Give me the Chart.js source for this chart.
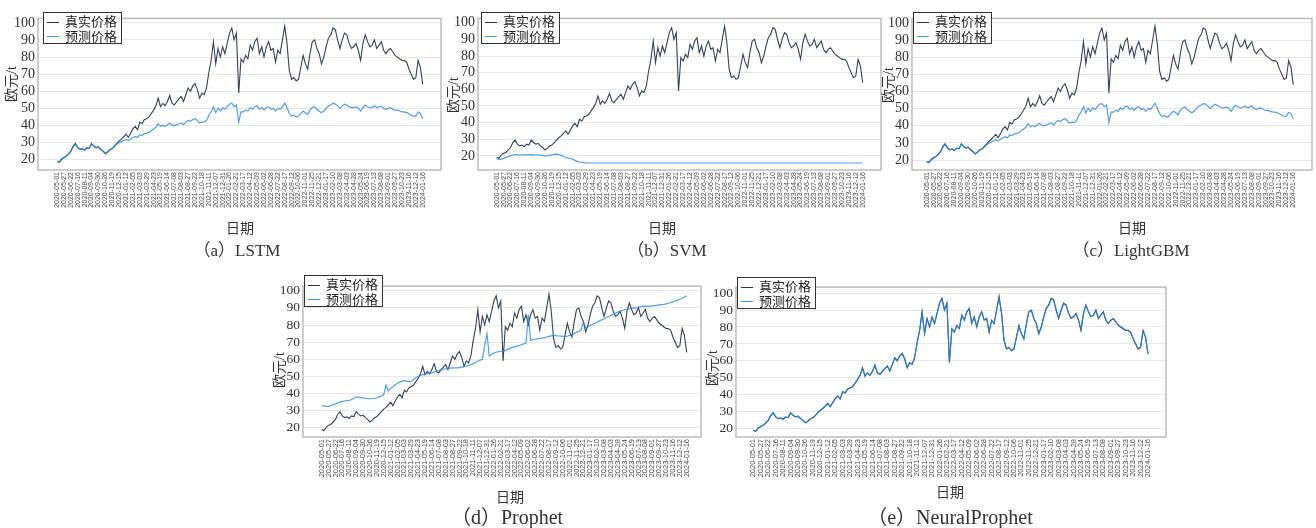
<!DOCTYPE html>
<html>
<head>
<meta charset="utf-8">
<script src="https://cdn.jsdelivr.net/npm/chart.js@4.4.1/dist/chart.umd.min.js"></script>
<style>
  body { margin: 0; width: 1316px; height: 528px; position: relative; overflow: hidden; background: #fff;
         font-family: 'Liberation Serif', 'Noto Sans CJK SC', serif; color: #333; }
  canvas { position: absolute; }
  .lbl { position: absolute; white-space: nowrap; transform: translate(-50%, -50%); z-index: 2; font-size: 14px; }
  .cjk { font-family: 'Noto Sans CJK SC', sans-serif; }
  .ytitle { transform: translate(-50%, -50%) rotate(-90deg); }
  .legend { position: absolute; z-index: 3; background: #fff; border: 1px solid #333; font-size: 13px;
            font-family: 'Noto Sans CJK SC', sans-serif; color: #222;
            line-height: 14.5px; padding: 1px 4px 0 3px; white-space: nowrap; }
  .legend .sw { display: inline-block; width: 12px; border-top: 1.5px solid; vertical-align: middle; margin-right: 6px; }
</style>
</head>
<body>
<script>
// trading-day index spacing of the stored samples and of the date labels
const STEP = 6;
const TICK_EVERY = 18;

const dateLabels = [
  "2020-05-01","2020-05-27","2020-06-22","2020-07-16","2020-08-11","2020-09-04","2020-09-30","2020-10-26","2020-11-19","2020-12-15",
  "2021-01-12","2021-02-05","2021-03-03","2021-03-29","2021-04-23","2021-05-19","2021-06-14","2021-07-08","2021-08-03","2021-08-27",
  "2021-09-22","2021-10-18","2021-11-11","2021-12-07","2021-12-31","2022-01-26","2022-02-21","2022-03-17","2022-04-12","2022-05-09",
  "2022-06-02","2022-06-28","2022-07-22","2022-08-17","2022-09-12","2022-10-06","2022-11-01","2022-11-25","2022-12-21","2023-01-17",
  "2023-02-10","2023-03-08","2023-04-03","2023-04-28","2023-05-24","2023-06-19","2023-07-13","2023-08-08","2023-09-01","2023-09-27",
  "2023-10-23","2023-11-16","2023-12-12","2024-01-16"
];

const yTicks = [20, 30, 40, 50, 60, 70, 80, 90, 100];

// 真实价格 (EUR/t)
const actualPrice = [
  19, 18.5, 20.5, 21.5, 22, 23.5, 25, 28, 29.5, 27,
  26, 26.5, 25.5, 27, 26.5, 29.5, 28, 27, 27.5, 26,
  25, 23.5, 24.5, 26, 26.5, 28, 29.5, 31, 32, 33.5,
  35, 33, 35.5, 38, 39.5, 37.5, 42, 41, 43.5, 44,
  45, 47, 49, 51.5, 56, 51, 53, 51.5, 54, 57.5,
  53, 52, 54, 55.5, 57, 54, 58, 62, 60, 63,
  64.5, 61, 56, 59, 58, 62, 71, 78, 89, 76,
  85, 80, 86, 82, 88, 94, 97, 90, 94, 59,
  79, 77, 81, 79, 87, 84, 89, 91, 82, 86,
  80, 86, 89, 84, 85, 77, 84, 82, 90, 98,
  88, 72, 67, 68, 66, 67, 74, 81, 76, 73,
  82, 89, 90, 85, 82, 76, 80, 86, 91, 93,
  97, 96, 90, 85, 90, 94, 93, 88, 85, 86,
  88, 84, 78, 88, 93, 89, 86, 87, 90, 85,
  87, 89, 84, 82, 84, 85, 83, 81, 80, 79,
  78, 78, 77, 73, 70, 67, 68, 78, 74, 64
];

const lstmPred = [
  19, 18.8, 20, 21.2, 22, 23.2, 24.8, 27.5, 29, 27.3,
  26.2, 26.3, 25.8, 26.8, 26.6, 29, 28, 27.2, 27.3, 26.2,
  25.2, 23.8, 24.5, 25.8, 26.4, 27.8, 29, 30, 30.6, 31.2,
  31.8, 31.2, 32, 33, 33.5, 33, 34.5, 34.3, 35.2, 35.5,
  36, 37, 38, 39, 41, 39.5, 40, 39.5, 40.5, 41.5,
  40.2, 39.8, 40.5, 41, 41.5, 40.5, 42, 43, 42.5, 43.5,
  44, 43, 41.5, 42, 42, 43, 46, 48, 51, 47.5,
  50, 48.5, 50.5, 49.5, 51, 52.5, 53, 51, 52, 42,
  48, 48, 49, 48.5, 50.5, 49.5, 51, 51.5, 49.5, 50.5,
  49, 50.5, 51, 49.5, 50, 48.5, 50, 49.5, 51, 53,
  50.5, 47, 45.5, 46, 45, 45.5, 47, 48.5, 47.5, 46.5,
  49, 50.5, 51, 49.5, 48.5, 47.5, 48.5, 50, 51.5, 52,
  53, 52.5, 51.5, 50, 51.5, 52.5, 52, 51, 50.5, 50.5,
  51, 50, 48.5, 50.5, 52, 51, 50.5, 50.5, 51.5, 50.5,
  51, 51.5, 50, 49.5, 50, 50.5, 49.5, 49, 49, 48.5,
  48, 48, 47.5, 47, 46, 45.5, 45.5, 48, 47, 44
];

const svmPred = [
  18.5, 17.7, 18, 18.5, 19, 19.5, 20, 20.5, 20.8, 20.6,
  20.4, 20.5, 20.6, 20.6, 20.6, 20.7, 20.6, 20.5, 20.5, 20.4,
  20.2, 19.9, 20, 20.3, 20.6, 20.9, 21, 20.8, 20.3, 19.6,
  19, 18.6, 18.4, 18, 17.3, 16.7, 16.3, 16.1, 15.9, 15.8,
  15.7, 15.7, 15.7, 15.7, 15.7, 15.7, 15.7, 15.7, 15.7, 15.7,
  15.7, 15.7, 15.7, 15.7, 15.7, 15.7, 15.7, 15.7, 15.7, 15.7,
  15.7, 15.7, 15.7, 15.7, 15.7, 15.7, 15.7, 15.7, 15.7, 15.7,
  15.7, 15.7, 15.7, 15.7, 15.7, 15.7, 15.7, 15.7, 15.7, 15.7,
  15.7, 15.7, 15.7, 15.7, 15.7, 15.7, 15.7, 15.7, 15.7, 15.7,
  15.7, 15.7, 15.7, 15.7, 15.7, 15.7, 15.7, 15.7, 15.7, 15.7,
  15.7, 15.7, 15.7, 15.7, 15.7, 15.7, 15.7, 15.7, 15.7, 15.7,
  15.7, 15.7, 15.7, 15.7, 15.7, 15.7, 15.7, 15.7, 15.7, 15.7,
  15.7, 15.7, 15.7, 15.7, 15.7, 15.7, 15.7, 15.7, 15.7, 15.7,
  15.7, 15.7, 15.7, 15.7, 15.7, 15.7, 15.7, 15.7, 15.7, 15.7,
  15.7, 15.7, 15.7, 15.7, 15.7, 15.7, 15.7, 15.7, 15.7, 15.7,
  15.7, 15.7, 15.7, 15.7, 15.7, 15.7, 15.7, 15.7, 15.7, 15.7
];

const lgbmPred = [
  19.1, 18.7, 20.1, 21.1, 22.1, 23.1, 24.7, 27.4, 29.1, 27.2,
  26.1, 26.4, 25.7, 26.9, 26.5, 29.1, 27.9, 27.1, 27.4, 26.1,
  25.1, 23.7, 24.6, 25.7, 26.3, 27.7, 28.9, 29.8, 30.5, 31.3,
  31.9, 31.1, 32.1, 32.9, 33.6, 32.9, 34.6, 34.2, 35.3, 35.4,
  36.1, 36.9, 38.1, 39.1, 41.2, 39.4, 40.1, 39.4, 40.6, 41.4,
  40.1, 39.9, 40.4, 41.1, 41.6, 40.4, 42.1, 43.1, 42.4, 43.6,
  44.1, 42.9, 41.4, 42.1, 41.9, 43.1, 46.2, 48.1, 51.2, 47.4,
  50.1, 48.4, 50.6, 49.4, 51.1, 52.6, 52.9, 51.1, 52.1, 41.8,
  48.1, 47.9, 49.1, 48.4, 50.6, 49.4, 51.1, 51.6, 49.4, 50.6,
  48.9, 50.6, 51.1, 49.4, 50.1, 48.4, 50.1, 49.4, 51.1, 53.1,
  50.4, 47.1, 45.4, 46.1, 44.9, 45.6, 47.1, 48.4, 47.6, 46.4,
  49.1, 50.4, 51.1, 49.6, 48.4, 47.6, 48.4, 50.1, 51.4, 52.1,
  52.9, 52.6, 51.4, 50.1, 51.4, 52.6, 51.9, 51.1, 50.4, 50.6,
  50.9, 50.1, 48.4, 50.6, 51.9, 51.1, 50.4, 50.6, 51.4, 50.6,
  50.9, 51.6, 50.1, 49.4, 50.1, 50.4, 49.6, 48.9, 49.1, 48.4,
  48.1, 47.9, 47.6, 46.9, 46.1, 45.4, 45.6, 47.9, 47.1, 44.1
];

const prophetPred = [
  33, 32.8, 32.6, 32.5, 33, 33.5, 34, 34.6, 35.1, 35.5,
  35.7, 35.9, 36, 36.6, 37.3, 38, 37.9, 37.7, 37.5, 37.3,
  37.1, 37, 37.1, 37.3, 37.6, 38.1, 38.6, 39.3, 45, 41.5,
  43, 44, 45, 46, 46.7, 47.3, 47.6, 47.3, 47, 47.2,
  48.2, 49.2, 50, 50.6, 51.1, 51.5, 51.7, 51.9, 52.1, 52.6,
  53.1, 53.5, 53.9, 54.2, 54.5, 54.7, 54.9, 55, 55, 55,
  55.1, 55.4, 55.7, 56, 56.5, 57, 57.5, 58.2, 58.9, 59.5,
  60, 68, 75, 62, 63, 63.6, 64.1, 64.5, 64.7, 64.9,
  65.1, 65.8, 66.4, 67, 67.4, 67.7, 68, 68.5, 69, 69.5,
  86, 71, 71.5, 71.7, 71.9, 72.1, 72.4, 72.7, 73, 73.4,
  73.7, 74, 73.8, 73.6, 73.5, 73.4, 73.4, 73.5, 74, 74.5,
  75, 75.7, 76.4, 77, 82, 78.3, 79, 79.7, 80.4, 81,
  81.7, 82.4, 83, 83.7, 84.4, 85, 85.7, 86.4, 87, 87.5,
  88, 88.5, 88.9, 89.2, 89.5, 89.7, 89.9, 90, 90.4, 90.7,
  91, 91, 91, 91, 91.2, 91.4, 91.5, 91.7, 91.9, 92,
  92.3, 92.7, 93, 93.5, 94, 94.5, 95, 95.5, 96.3, 97
];

const neuralPred = [
  19.2, 18.8, 20.3, 21.3, 22.2, 23.3, 25.2, 27.6, 29.3, 27.3,
  26.2, 26.3, 25.8, 26.8, 26.7, 29.2, 28.2, 27.2, 27.3, 26.2,
  25.2, 23.8, 24.3, 25.8, 26.7, 27.8, 29.3, 30.8, 32.2, 33.3,
  34.7, 33.3, 35.3, 37.7, 39.3, 37.8, 41.7, 41.2, 43.3, 44.2,
  44.8, 46.8, 49.2, 51.3, 55.6, 51.3, 52.8, 51.7, 53.8, 57.2,
  53.3, 52.2, 53.8, 55.3, 56.8, 54.3, 57.8, 61.7, 60.3, 62.8,
  64.2, 61.3, 56.4, 58.8, 58.2, 61.8, 70.6, 77.7, 88.4, 76.5,
  84.6, 80.3, 85.7, 82.3, 87.6, 93.6, 96.5, 90.3, 93.6, 59.6,
  78.7, 77.3, 80.7, 79.2, 86.6, 84.3, 88.7, 90.6, 82.4, 85.7,
  80.4, 85.7, 88.6, 84.3, 84.8, 77.4, 83.7, 82.2, 89.6, 97.4,
  88.3, 72.5, 67.3, 67.8, 66.3, 67.2, 73.7, 80.6, 76.2, 73.3,
  81.7, 88.6, 89.7, 85.2, 82.2, 76.4, 79.8, 85.7, 90.6, 92.7,
  96.5, 95.7, 90.3, 85.3, 89.7, 93.6, 92.8, 88.2, 85.3, 85.8,
  87.7, 84.2, 78.4, 87.6, 92.6, 89.2, 86.2, 86.8, 89.7, 85.3,
  86.8, 88.6, 84.3, 82.2, 83.8, 84.8, 83.2, 81.2, 80.2, 79.2,
  78.2, 77.8, 76.8, 73.3, 70.3, 67.3, 68.2, 77.5, 74.2, 64.3
];

const ACTUAL_COLOR = '#34425c';
const PRED_COLOR = 'rgba(35, 135, 225, 0.8)';
const Y_AXIS_W = 30;
const X_AXIS_H = 50;

// box = plot frame [left, top, right, bottom] in page pixels
const panels = [
  { tag: 'a', name: 'LSTM', pred: lstmPred, box: [38, 8, 441, 170], xr: [-49.6, 1001.7], yr: [14.0, 102.6],
    legend: [43, 12], yTitle: [10, 84], xTitle: [240, 227], caption: [237, 248], capSize: 17, tickSize: 7, ySize: 14 },
  { tag: 'b', name: 'SVM', pred: svmPred, box: [478, 8, 881, 170], xr: [-48.7, 1001.7], yr: [11.5, 102.6],
    legend: [481, 12], yTitle: [452, 95], xTitle: [662, 227], caption: [667, 248], capSize: 17, tickSize: 7, ySize: 14 },
  { tag: 'c', name: 'LightGBM', pred: lgbmPred, box: [912, 8, 1312, 170], xr: [-38.3, 1002.7], yr: [14.2, 102.6],
    legend: [913, 12], yTitle: [887, 85], xTitle: [1132, 227], caption: [1131, 248], capSize: 17, tickSize: 7, ySize: 14 },
  { tag: 'd', name: 'Prophet', pred: prophetPred, box: [303, 276, 701, 437], xr: [-48.9, 991.4], yr: [14.7, 102.7],
    legend: [304, 275], yTitle: [278, 370], xTitle: [510, 496], caption: [507, 515], capSize: 20, tickSize: 7.5, ySize: 13.5 },
  { tag: 'e', name: 'NeuralProphet', pred: neuralPred, box: [736, 277, 1166, 437], xr: [-41.8, 997.5], yr: [15.2, 103.5],
    legend: [737, 277], yTitle: [711, 368], xTitle: [950, 491], caption: [950, 515], capSize: 20, tickSize: 7.5, ySize: 13.5 }
];

const frame = {
  id: 'frame',
  beforeDatasetsDraw(chart) {
    const { ctx, chartArea: a } = chart;
    ctx.save();
    ctx.strokeStyle = '#bdbdbd';
    ctx.lineWidth = 1.5;
    ctx.strokeRect(a.left, a.top, a.right - a.left, a.bottom - a.top);
    ctx.restore();
  }
};

function toPoints(values) {
  return values.map((v, i) => ({ x: i * STEP, y: v }));
}

function addText(text, pos, cls, size) {
  const d = document.createElement('div');
  d.className = 'lbl ' + (cls || '');
  d.textContent = text;
  d.style.left = pos[0] + 'px';
  d.style.top = pos[1] + 'px';
  if (size) d.style.fontSize = size + 'px';
  document.body.appendChild(d);
}

function addLegend(pos) {
  const d = document.createElement('div');
  d.className = 'legend';
  d.style.left = pos[0] + 'px';
  d.style.top = pos[1] + 'px';
  d.innerHTML = '<div><span class="sw" style="border-color:#333"></span>真实价格</div>' +
                '<div><span class="sw" style="border-color:#3a9ae0"></span>预测价格</div>';
  document.body.appendChild(d);
}

function drawPanel(p) {
  const [l, t, r, b] = p.box;
  const cv = document.createElement('canvas');
  cv.width = r - l + Y_AXIS_W + 1;
  cv.height = b - t + 1 + X_AXIS_H;
  cv.style.left = (l - Y_AXIS_W) + 'px';
  cv.style.top = (t - 1) + 'px';
  document.body.appendChild(cv);

  new Chart(cv, {
    type: 'line',
    data: {
      datasets: [
        { label: '预测价格', data: toPoints(p.pred), borderColor: PRED_COLOR, borderWidth: 1.2,
          pointRadius: 0, tension: 0, order: 0 },
        { label: '真实价格', data: toPoints(actualPrice), borderColor: ACTUAL_COLOR, borderWidth: 1.1,
          pointRadius: 0, tension: 0, order: 1 }
      ]
    },
    options: {
      responsive: false,
      animation: false,
      layout: { padding: { top: 1, right: 1 } },
      plugins: { legend: { display: false }, tooltip: { enabled: false } },
      scales: {
        x: {
          type: 'linear', min: p.xr[0], max: p.xr[1],
          afterFit: s => { s.height = X_AXIS_H; },
          afterBuildTicks: s => { s.ticks = dateLabels.map((_, i) => ({ value: i * TICK_EVERY })); },
          grid: { display: false, drawTicks: false },
          border: { display: false },
          ticks: {
            autoSkip: false, minRotation: 90, maxRotation: 90, padding: 2,
            color: '#4a4a4a', font: { family: "'Liberation Sans', sans-serif", size: p.tickSize },
            callback: (v, i) => dateLabels[i]
          }
        },
        y: {
          type: 'linear', min: p.yr[0], max: p.yr[1],
          afterFit: s => { s.width = Y_AXIS_W; },
          afterBuildTicks: s => { s.ticks = yTicks.map(v => ({ value: v })); },
          grid: { color: '#e8e8e8', drawTicks: false },
          border: { display: false },
          ticks: { autoSkip: false, padding: 3, color: '#333', font: { family: "'Liberation Serif', serif", size: p.ySize } }
        }
      }
    },
    plugins: [frame]
  });

  addLegend(p.legend);
  addText('欧元/t', p.yTitle, 'ytitle', 14);
  addText('日期', p.xTitle, 'cjk', 14);
  addText('（' + p.tag + '）' + p.name, p.caption, '', p.capSize);
}

panels.forEach(drawPanel);
</script>
</body>
</html>
